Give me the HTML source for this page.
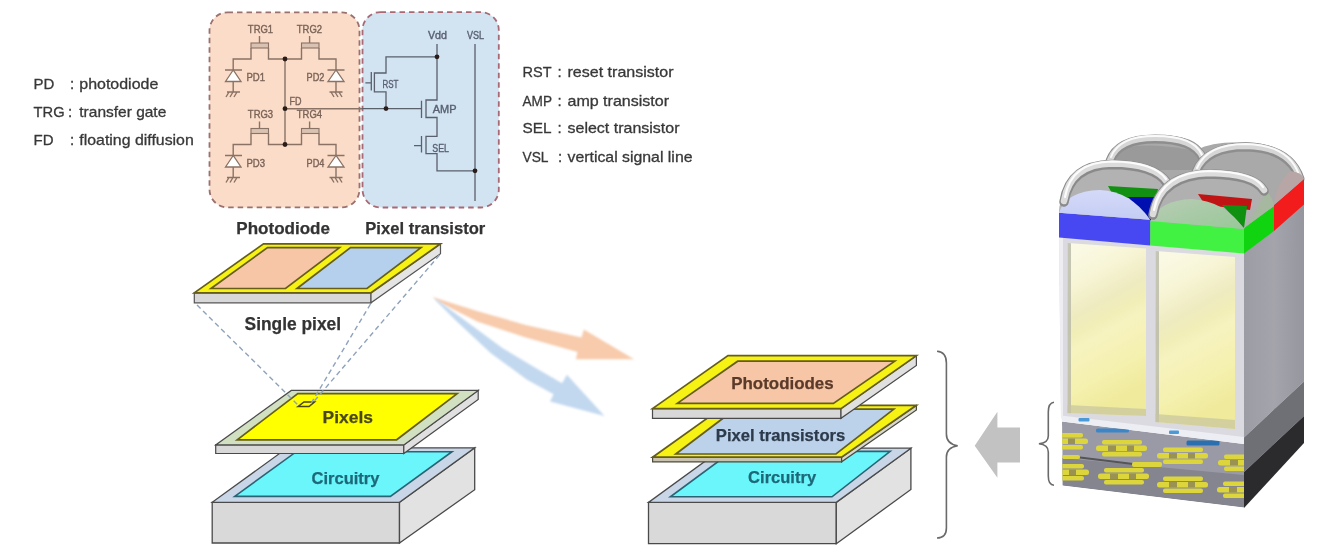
<!DOCTYPE html>
<html><head><meta charset="utf-8"><style>
html,body{margin:0;padding:0;background:#fff;width:1317px;height:557px;overflow:hidden}
svg{display:block;filter:blur(0.65px)}
text{font-family:"Liberation Sans",sans-serif}
.lg{font-size:15px;fill:#383838;stroke:#383838;stroke-width:0.3}
.bl{font-size:17px;font-weight:bold;fill:#333;stroke:#333;stroke-width:0.25}
.ct{font-size:11px;fill:#7a6458;stroke:#7a6458;stroke-width:0.4}
.cb{font-size:10px;fill:#586070;stroke:#586070;stroke-width:0.35}
.w{stroke:#8a7264;stroke-width:1.4;fill:none}
.wb{stroke:#5a606c;stroke-width:1.3;fill:none}
</style></head><body>
<svg width="1317" height="557" viewBox="0 0 1317 557">
<defs>
<linearGradient id="gWin" x1="0" y1="0" x2="0.25" y2="1">
<stop offset="0" stop-color="#fbfae8"/><stop offset="0.22" stop-color="#f8f6d8"/><stop offset="0.42" stop-color="#eeebc0"/><stop offset="0.52" stop-color="#f2eeb8"/><stop offset="0.6" stop-color="#f7f3c0"/><stop offset="0.85" stop-color="#f4f0ac"/><stop offset="1" stop-color="#efea9c"/>
</linearGradient>
<linearGradient id="gSide" x1="0" y1="0" x2="1" y2="0">
<stop offset="0" stop-color="#9c9ca4"/><stop offset="0.5" stop-color="#a4a4ac"/><stop offset="1" stop-color="#96969e"/>
</linearGradient>
<linearGradient id="gDomeB" x1="0" y1="0" x2="0" y2="1"><stop offset="0" stop-color="#d4daf8"/><stop offset="1" stop-color="#c4ccf4"/></linearGradient>
<linearGradient id="gDomeG" x1="0" y1="0" x2="1" y2="1"><stop offset="0" stop-color="#b8ccb4"/><stop offset="1" stop-color="#98c898"/></linearGradient>
<g id="blob"><rect x="6" y="0" width="40" height="4.5" rx="2"/><rect x="0" y="5.5" width="51" height="5.5" rx="2.5"/><rect x="6" y="12" width="40" height="4.5" rx="2"/><rect x="12" y="5.5" width="8" height="5.5" fill="#9a9250"/><rect x="31" y="5.5" width="7" height="5.5" fill="#9a9250"/></g>
</defs>

<!-- LEFT LEGEND -->
<g class="lg">
<text x="33.6" y="89">PD</text><text x="70" y="89">:</text><text x="79.3" y="89" textLength="79" lengthAdjust="spacingAndGlyphs">photodiode</text>
<text x="33.6" y="117.4" textLength="31" lengthAdjust="spacingAndGlyphs">TRG</text><text x="68" y="117.4">:</text><text x="79.3" y="117.4" textLength="87" lengthAdjust="spacingAndGlyphs">transfer gate</text>
<text x="33.6" y="144.7">FD</text><text x="70" y="144.7">:</text><text x="79.3" y="144.7" textLength="114.5" lengthAdjust="spacingAndGlyphs">floating diffusion</text>
</g>

<!-- RIGHT LEGEND -->
<g class="lg">
<text x="522.5" y="77.4" textLength="29" lengthAdjust="spacingAndGlyphs">RST</text><text x="557.5" y="77.4">:</text><text x="567.5" y="77.4" textLength="106" lengthAdjust="spacingAndGlyphs">reset transistor</text>
<text x="522.5" y="105.8" textLength="29.5" lengthAdjust="spacingAndGlyphs">AMP</text><text x="557.5" y="105.8">:</text><text x="567.5" y="105.8" textLength="101.5" lengthAdjust="spacingAndGlyphs">amp transistor</text>
<text x="522.5" y="133.1" textLength="29" lengthAdjust="spacingAndGlyphs">SEL</text><text x="557.5" y="133.1">:</text><text x="567.5" y="133.1" textLength="112" lengthAdjust="spacingAndGlyphs">select transistor</text>
<text x="522.5" y="161.7" textLength="26" lengthAdjust="spacingAndGlyphs">VSL</text><text x="558" y="161.7">:</text><text x="567.5" y="161.7" textLength="125" lengthAdjust="spacingAndGlyphs">vertical signal line</text>
</g>

<!-- CIRCUIT BOXES -->
<rect x="209.5" y="12.4" width="150" height="195" rx="18" fill="#fbdcc8" stroke="#9a7070" stroke-width="1.8" stroke-dasharray="5.5 4"/>
<rect x="362.5" y="12.1" width="136.3" height="195.4" rx="18" fill="#d2e3f1" stroke="#a86874" stroke-width="1.8" stroke-dasharray="5.5 4"/>

<!-- orange circuit -->
<g id="cell">
<text class="ct" x="260.5" y="32.6" text-anchor="middle" textLength="25.3" lengthAdjust="spacingAndGlyphs">TRG1</text>
<text class="ct" x="309.4" y="32.6" text-anchor="middle" textLength="25.3" lengthAdjust="spacingAndGlyphs">TRG2</text>
<path class="w" d="M259.5 36V43M309.6 36V43"/>
<rect x="251" y="43" width="17.5" height="5" fill="#d9c2b2" stroke="#8a7264" stroke-width="1.1"/>
<rect x="301.5" y="43" width="17.5" height="5" fill="#d9c2b2" stroke="#8a7264" stroke-width="1.1"/>
<path class="w" d="M233.2 70V59H251V48M268.5 48V59H301.5V48M319 48V59H336V70"/>
<path class="w" d="M225 70H242M327.5 70H344.5"/>
<path d="M233.2 70L225.5 81.5H241Z M336 70L328 81.5H344Z" fill="#fff" stroke="#8a7264" stroke-width="1.3"/>
<path class="w" d="M233.2 81.5V92M227 92H240M229 92L226 97M233 92L230 97M237 92L234 97"/>
<path class="w" d="M336 81.5V92M329.5 92H342.5M331 92L334 97M335 92L338 97M339 92L342 97"/>
<text class="ct" x="246.4" y="81.3" textLength="18.6" lengthAdjust="spacingAndGlyphs">PD1</text>
<text class="ct" x="306.6" y="81.3" textLength="17.8" lengthAdjust="spacingAndGlyphs">PD2</text>
</g>
<g transform="translate(0,85.5)">
<text class="ct" x="260.5" y="32.6" text-anchor="middle" textLength="25.3" lengthAdjust="spacingAndGlyphs">TRG3</text>
<text class="ct" x="309.4" y="32.6" text-anchor="middle" textLength="25.3" lengthAdjust="spacingAndGlyphs">TRG4</text>
<path class="w" d="M259.5 36V43M309.6 36V43"/>
<rect x="251" y="43" width="17.5" height="5" fill="#d9c2b2" stroke="#8a7264" stroke-width="1.1"/>
<rect x="301.5" y="43" width="17.5" height="5" fill="#d9c2b2" stroke="#8a7264" stroke-width="1.1"/>
<path class="w" d="M233.2 70V59H251V48M268.5 48V59H301.5V48M319 48V59H336V70"/>
<path class="w" d="M225 70H242M327.5 70H344.5"/>
<path d="M233.2 70L225.5 81.5H241Z M336 70L328 81.5H344Z" fill="#fff" stroke="#8a7264" stroke-width="1.3"/>
<path class="w" d="M233.2 81.5V92M227 92H240M229 92L226 97M233 92L230 97M237 92L234 97"/>
<path class="w" d="M336 81.5V92M329.5 92H342.5M331 92L334 97M335 92L338 97M339 92L342 97"/>
<text class="ct" x="246.4" y="81.3" textLength="18.6" lengthAdjust="spacingAndGlyphs">PD3</text>
<text class="ct" x="306.6" y="81.3" textLength="17.8" lengthAdjust="spacingAndGlyphs">PD4</text>
</g>
<path class="w" d="M285 59V144.5M285 108.7H362"/>
<text class="ct" x="289.5" y="105" textLength="12" lengthAdjust="spacingAndGlyphs">FD</text>

<!-- blue circuit -->
<path class="wb" d="M362 108.7H421.5"/>
<text class="cb" x="437.5" y="38.9" text-anchor="middle" textLength="19" lengthAdjust="spacingAndGlyphs">Vdd</text>
<text class="cb" x="475.5" y="38.7" text-anchor="middle" textLength="17" lengthAdjust="spacingAndGlyphs">VSL</text>
<path class="wb" d="M437 44V100H426V117.5H437V136.3H426V153.6H437V170.8H475M475 44V201"/>
<path class="wb" d="M437 56.8H386V73H374.4V91.8H386V108.6"/>
<path class="wb" d="M371.3 72V90.4M365.4 82.9H371.3M421.5 100.8V118M421.5 136V152.5M414 145.6H421.5"/>
<text class="cb" x="382.5" y="88.3" textLength="16" lengthAdjust="spacingAndGlyphs">RST</text>
<text class="cb" x="432.8" y="113.3" textLength="23.7" lengthAdjust="spacingAndGlyphs">AMP</text>
<text class="cb" x="432.3" y="151.8" textLength="16.7" lengthAdjust="spacingAndGlyphs">SEL</text>

<!-- junction dots -->
<g fill="#2a1c18">
<circle cx="285" cy="59" r="2.4"/><circle cx="285" cy="108.7" r="2.4"/><circle cx="285" cy="144.5" r="2.4"/>
<circle cx="437" cy="56.8" r="2.4"/><circle cx="386" cy="108.6" r="2.4"/><circle cx="475" cy="170.8" r="2.4"/>
</g>

<!-- bold labels -->
<text class="bl" x="236.3" y="234.3" textLength="93.7" lengthAdjust="spacingAndGlyphs">Photodiode</text>
<text class="bl" x="365.3" y="234.3" textLength="120" lengthAdjust="spacingAndGlyphs">Pixel transistor</text>

<!-- SINGLE PIXEL CARD -->
<path d="M194.3 292.8H371V302.8H194.3Z" fill="#d8d8d8" stroke="#555" stroke-width="1.2"/>
<path d="M371 292.8L440.5 243.8V253.8L371 302.8Z" fill="#e4e4e4" stroke="#555" stroke-width="1.2"/>
<path d="M263.5 243.8H440.5L371 292.8H194.3Z" fill="#f6f214" stroke="#665e18" stroke-width="1.7"/>
<path d="M267.5 247.6H339.5L285.5 288.5H211Z" fill="#f7c6a6" stroke="#665e18" stroke-width="1.7"/>
<path d="M350.5 247.6H421L367 288.5H297Z" fill="#b4d0ec" stroke="#665e18" stroke-width="1.7"/>
<text class="bl" x="244.6" y="329.8" textLength="96.5" style="font-size:17.6px" lengthAdjust="spacingAndGlyphs">Single pixel</text>

<!-- LEFT CIRCUITRY BOX -->
<path d="M212.2 502.3H399.5V543H212.2Z" fill="#d9d9d9" stroke="#4a4a4a" stroke-width="1.3"/>
<path d="M399.5 502.3L474.7 447.8V489.7L399.5 543Z" fill="#e2e2e2" stroke="#4a4a4a" stroke-width="1.3"/>
<path d="M287.4 447.8H474.7L399.5 502.3H212.2Z" fill="#c8d6e8" stroke="#4a4a4a" stroke-width="1.3"/>
<path d="M296.3 451.7H452L390.4 496.4H234.7Z" fill="#6af6fa" stroke="#2a6474" stroke-width="1.6"/>
<text class="bl" x="311.5" y="483.5" textLength="68" lengthAdjust="spacingAndGlyphs" style="fill:#1d6878;stroke:#1d6878">Circuitry</text>

<!-- PIXELS PANEL -->
<path d="M215.7 444.9H403.8V453.5H215.7Z" fill="#d8d8d8" stroke="#4a4a4a" stroke-width="1.2"/>
<path d="M403.8 444.9L478.2 390.4V399.4L403.8 453.5Z" fill="#e0e0e0" stroke="#4a4a4a" stroke-width="1.2"/>
<path d="M291.3 390.4H478.2L403.8 444.9H215.7Z" fill="#d2e0c2" stroke="#4a4a4a" stroke-width="1.2"/>
<path d="M297.8 393.6H457.2L396.6 439.8H237.2Z" fill="#ffff00" stroke="#665e18" stroke-width="1.7"/>
<path d="M298 406.5L304 402H314.5L309 406.5Z" fill="none" stroke="#4a4410" stroke-width="1.5"/>
<!-- dashed projection lines -->
<g stroke="#8fa2bc" stroke-width="1.4" stroke-dasharray="5 3.5" fill="none">
<path d="M197 305L299 406"/><path d="M370.5 304L309.5 406"/><path d="M439.5 255L313.5 402"/>
</g>
<text class="bl" x="322.6" y="423" textLength="50.4" lengthAdjust="spacingAndGlyphs" style="fill:#4a4818;stroke:#4a4818">Pixels</text>

<!-- ARROWS (orange & blue) -->
<path d="M432.4 297 L477.8 311.3 L525.7 324.9 L581.5 337.6 L583.9 329.6 L634.1 359.2 L575.9 359.2 L577.5 352 L525.7 337.6 L477.8 321.7 L439.6 302.5Z" fill="#f7cbac" style="filter:blur(0.8px)"/>
<path d="M433.6 297.3 L466.4 321.5 L502.7 348.2 L539.1 370 L562.1 383.3 L566.9 374.8 L604.5 416 L550 401.5 L553.6 394.2 L527 379.7 L490.6 353 L454.2 319 L437.3 302Z" fill="#c2d8ef" style="filter:blur(0.8px)"/>

<!-- RIGHT STACK: Circuitry -->
<path d="M648.5 502.4H836.3V543.7H648.5Z" fill="#d9d9d9" stroke="#4a4a4a" stroke-width="1.3"/>
<path d="M836.3 502.4L910.9 448.2V489.5L836.3 543.7Z" fill="#e2e2e2" stroke="#4a4a4a" stroke-width="1.3"/>
<path d="M723 448.2H910.9L836.3 502.4H648.5Z" fill="#c8d6e8" stroke="#4a4a4a" stroke-width="1.3"/>
<path d="M732 451.4H890.2L832 496.8H670.4Z" fill="#6af6fa" stroke="#2a6474" stroke-width="1.6"/>
<text class="bl" x="748.1" y="483" textLength="68" lengthAdjust="spacingAndGlyphs" style="fill:#1d6878;stroke:#1d6878">Circuitry</text>

<!-- Pixel transistors panel -->
<path d="M652.6 457.2H841.6V461.8H652.6Z" fill="#c8c2ae" stroke="#4a4a3a" stroke-width="1.2"/>
<path d="M841.6 457.2L916.4 405.3V410L841.6 461.8Z" fill="#d8d8d0" stroke="#4a4a3a" stroke-width="1.2"/>
<path d="M725.3 405.3H916.4L841.6 457.2H652.6Z" fill="#f6f214" stroke="#665e18" stroke-width="1.7"/>
<path d="M735 409.2H893.8L836 454H675.8Z" fill="#bcd2ea" stroke="#665e18" stroke-width="1.7"/>
<text class="bl" x="715.8" y="441" textLength="129.5" lengthAdjust="spacingAndGlyphs" style="fill:#2c3a4a;stroke:#2c3a4a">Pixel transistors</text>

<!-- Photodiodes panel -->
<path d="M652.5 408.6H841V418.3H652.5Z" fill="#d8d8d8" stroke="#4a4a4a" stroke-width="1.2"/>
<path d="M841 408.6L916.4 355.8V365.5L841 418.3Z" fill="#e0e0e0" stroke="#4a4a4a" stroke-width="1.2"/>
<path d="M728 355.6H916.4L841 408.6H652.5Z" fill="#f6f214" stroke="#665e18" stroke-width="1.7"/>
<path d="M737.7 361.2H894.8L833.4 403.4H677.3Z" fill="#f7c6a6" stroke="#665e18" stroke-width="1.7"/>
<text class="bl" x="731.2" y="388.7" textLength="102.5" font-size="17.5" lengthAdjust="spacingAndGlyphs" style="fill:#5a3a2a;stroke:#5a3a2a">Photodiodes</text>

<!-- brace big -->
<path d="M937 351.3 Q946.4 352 946.4 363 V434 Q946.4 444 957.7 445.7 Q946.4 447.5 946.4 457 V528 Q946.4 538 937 538" fill="none" stroke="#6a6a6a" stroke-width="1.6"/>
<!-- grey arrow -->
<path d="M974.7 445.7L997.4 411.7V427.5H1020V462.6H997.4V477.7Z" fill="#c2c2c2"/>
<!-- small brace -->
<path d="M1054 402.3 Q1048.3 403 1048.3 412 V436 Q1048.3 443 1038.9 443.8 Q1048.3 444.6 1048.3 452 V476 Q1048.3 485 1054 485.3" fill="none" stroke="#6a6a6a" stroke-width="1.6"/>

<!-- SENSOR -->
<g id="sensor">
<!-- back lenses (grey) -->
<path d="M1059 213 L1060 204 Q1064 178 1088 166 L1106 160 Q1114 137 1155 135 Q1192 135 1201 148 Q1214 142 1246 142 Q1292 144 1304 178 L1304 205 L1244 253 L1059 237Z" fill="#a9a9a9"/>
<path d="M1112 150 Q1150 140 1200 152 L1200 170 L1112 170Z" fill="#9a9a9a"/>
<!-- rings -->
<g fill="none" stroke-linecap="round">
<g id="rBL"><path d="M1110 161 Q1118 139 1155 139 Q1195 139 1203 159" stroke="#8e8e8e" stroke-width="9"/>
<path d="M1110 160 Q1118 138 1155 138 Q1195 138 1203 158" stroke="#d6d6d6" stroke-width="6"/>
<path d="M1111 157 Q1119 136 1155 136 Q1194 136 1202 155" stroke="#fafafa" stroke-width="2"/></g>
<g><path d="M1196 172 Q1206 147 1246 147 Q1290 148 1300 179" stroke="#8e8e8e" stroke-width="9"/>
<path d="M1196 171 Q1206 146 1246 146 Q1290 147 1300 178" stroke="#d6d6d6" stroke-width="6"/>
<path d="M1197 168 Q1207 144 1246 144 Q1289 145 1299 175" stroke="#fafafa" stroke-width="2"/></g>
</g>
<!-- side face -->
<path d="M1244 253 L1304 204 V381.5 L1244 437.5Z" fill="url(#gSide)"/>
<path d="M1273.5 230 L1275 229 V409 L1273.5 410Z" fill="#a4a4aa"/>
<path d="M1244 437.5 L1304 381.5 V416 L1244 472Z" fill="#6f6f76"/>
<path d="M1244 472 L1304 416 V443 L1244 508Z" fill="#2b2b2d"/>
<!-- side bands -->
<path d="M1244 228 L1274 206 V231 L1244 253.5Z" fill="#10d410"/>
<path d="M1274 205 L1304 179 V204.5 L1274 231Z" fill="#f21c1c"/>
<!-- side dome caps -->
<path d="M1244 228 Q1246 196 1260 189 Q1272 192 1274 206Z" fill="#a6b8a0"/>
<path d="M1274 205 Q1276 184 1290 171 Q1302 172 1304 179Z" fill="#b8a6a6"/>
<!-- front face frame -->
<path d="M1059 237 L1244 251.5 V440 L1061 418Z" fill="#dadae0"/>
<path d="M1059 237 L1063 237.3 V418.3 L1061 418Z" fill="#eeeef2"/>
<!-- windows -->
<path d="M1067.5 243 L1146 248.5 V416 L1067.5 413Z" fill="url(#gWin)"/>
<path d="M1155.5 251 L1235 257 V429 L1155.5 422Z" fill="url(#gWin)"/>
<path d="M1067.5 243 L1071 243.2 V413.2 L1067.5 413Z" fill="#b8b8a8" opacity="0.8"/>
<path d="M1155.5 251 L1159 251.3 V422.3 L1155.5 422Z" fill="#b8b8a8" opacity="0.8"/>
<path d="M1067.5 405 L1146 409 V416 L1067.5 413Z" fill="#c8c4a0" opacity="0.7"/>
<path d="M1155.5 414 L1235 420 V429 L1155.5 422Z" fill="#c8c4a0" opacity="0.7"/>
<!-- white strip -->
<path d="M1061 415.5 L1244 437 V444 L1062 421.5Z" fill="#eceef4"/>
<rect x="1078.5" y="418" width="11" height="3.5" rx="1" fill="#4a9ad8"/>
<rect x="1169" y="430.5" width="10" height="3.5" rx="1" fill="#4a9ad8"/>
<!-- circuit layer front -->
<clipPath id="cl"><path d="M1062 421.5 L1244 444 V507.5 L1062.5 485.5Z"/></clipPath>
<g clip-path="url(#cl)">
<path d="M1062 421.5 L1244 444 V507.5 L1062.5 485.5Z" fill="#9a9aa6"/>
<path d="M1062 458 L1244 475 V507.5 L1062.5 485.5Z" fill="#85858f"/>
<path d="M1080 457.5 L1133 464" stroke="#555" stroke-width="2"/>
<g fill="#dcd63c">
<use href="#blob" transform="translate(1037,433)"/>
<use href="#blob" transform="translate(1096,440)"/>
<use href="#blob" transform="translate(1157,447.5)"/>
<use href="#blob" transform="translate(1218,454.5)"/>
<use href="#blob" transform="translate(1038,464)"/>
<use href="#blob" transform="translate(1098,468)"/>
<use href="#blob" transform="translate(1157,476.5)"/>
<use href="#blob" transform="translate(1217,481.5)"/>
<rect x="1132" y="462" width="30" height="5" rx="2"/>
<rect x="1062" y="455" width="18" height="4" rx="2"/>
</g>
<g fill="#3a86c8">
<rect x="1096" y="428.5" width="33" height="4" rx="1.5"/>
<rect x="1186.5" y="440.5" width="33" height="5" rx="1.5" fill="#2a70b0"/>
</g>
</g>
<!-- color bands front -->
<path d="M1059 212.8 L1150.3 219.8 V245.5 L1059 237.4Z" fill="#4848f2"/>
<path d="M1150.3 220.5 L1244 229 V253.5 L1150.3 245.5Z" fill="#42f242"/>
<!-- front lenses grey areas -->
<path d="M1059 212.8 Q1062 168 1115 160 Q1165 162 1171 190 L1150.3 219.8Z" fill="#b2b2b2"/>
<path d="M1150.3 220.5 Q1154 180 1209 171 Q1258 174 1264 196 L1244 229Z" fill="#b0b0b0"/>
<!-- strips behind front domes -->
<path d="M1108 186 L1158 189 L1156 200 L1114 197Z" fill="#129012"/>
<path d="M1128 197 L1155 197 L1151 221Z" fill="#0010b0"/>
<path d="M1198 194 L1252 199 L1250 210 L1205 205Z" fill="#c01414"/>
<path d="M1222 205 L1247 206 L1244 228Z" fill="#109010"/>
<!-- front domes -->
<path d="M1059 212.8 Q1066 191 1100 190 Q1130 191 1150.3 219.8Z" fill="url(#gDomeB)"/>
<path d="M1150.3 221 Q1160 200 1192 199 Q1225 201 1244 229Z" fill="url(#gDomeG)"/>

<!-- front rings -->
<g fill="none" stroke-linecap="round">
<path d="M1064 202 Q1070 165 1112 164.5 Q1155 165 1167 183" stroke="#8a8a8a" stroke-width="9.5"/>
<path d="M1064 201 Q1070 164 1112 163.5 Q1155 164 1167 182" stroke="#dcdcdc" stroke-width="6.5"/>
<path d="M1065 197 Q1071 162 1112 161.5 Q1154 162 1166 179" stroke="#fcfcfc" stroke-width="2.2"/>
<path d="M1153 215 Q1160 175 1210 174 Q1255 175 1264 191" stroke="#8a8a8a" stroke-width="9.5"/>
<path d="M1153 214 Q1160 174 1210 173 Q1255 174 1264 190" stroke="#dcdcdc" stroke-width="6.5"/>
<path d="M1154 210 Q1161 172 1210 171 Q1254 172 1263 187" stroke="#fcfcfc" stroke-width="2.2"/>
</g>
</g>
</svg>
</body></html>
